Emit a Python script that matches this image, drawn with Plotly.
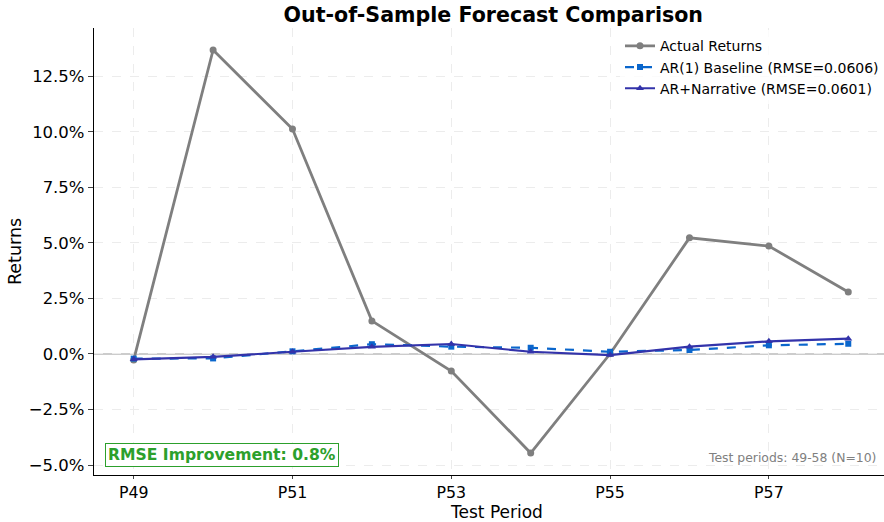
import plotly.graph_objects as go

periods = ["P49", "P50", "P51", "P52", "P53", "P54", "P55", "P56", "P57", "P58"]
actual = [-0.0027, 0.1369, 0.1013, 0.0149, -0.0077, -0.0446, 0.0001, 0.0523, 0.0486, 0.0279]
baseline = [-0.0021, -0.0020, 0.0012, 0.0044, 0.0033, 0.0028, 0.0010, 0.0018, 0.0039, 0.0046]
narrative = [-0.0024, -0.0013, 0.0010, 0.0032, 0.0045, 0.0010, -0.0005, 0.0033, 0.0057, 0.0069]
x_tick_labels = ["P49", "P51", "P53", "P55", "P57"]
y_ticks = [-0.05, -0.025, 0.0, 0.025, 0.05, 0.075, 0.10, 0.125]

idx = list(range(len(periods)))
FONT = "DejaVu Sans"
PLOT_H = 522 - 28 - 47

fig = go.Figure()
fig.add_hline(y=0, line=dict(color="#999999", width=1.2), layer="below")
fig.add_trace(go.Scatter(x=idx, y=actual, mode="lines+markers", name="Actual Returns",
                         line=dict(color="#7f7f7f", width=2.8),
                         marker=dict(symbol="circle", size=7, color="#7f7f7f")))
fig.add_trace(go.Scatter(x=idx, y=baseline, mode="lines+markers", name="AR(1) Baseline (RMSE=0.0606)",
                         line=dict(color="#0a66cc", width=2.2, dash="dash"),
                         marker=dict(symbol="square", size=6, color="#0a66cc")))
fig.add_trace(go.Scatter(x=idx, y=narrative, mode="lines+markers", name="AR+Narrative (RMSE=0.0601)",
                         line=dict(color="#3333aa", width=2.2),
                         marker=dict(symbol="triangle-up", size=7, color="#3333aa")))

fig.update_layout(
    width=884, height=522,
    margin=dict(l=94, r=0, t=28, b=47),
    plot_bgcolor="white", paper_bgcolor="white",
    font=dict(family=FONT, color="black"),
    title=dict(text="<b>Out-of-Sample Forecast Comparison</b>", x=0.558, xanchor="center",
               y=0.972, yanchor="middle", font=dict(size=20.6, family=FONT)),
    legend=dict(x=1.0, y=0.995, xanchor="right", yanchor="top", bgcolor="rgba(255,255,255,0.8)",
                borderwidth=0, font=dict(size=14, family=FONT), tracegroupgap=0, itemwidth=30),
    showlegend=True,
)
fig.update_xaxes(range=[-0.5, 9.45], tickmode="array", tickvals=[0, 2, 4, 6, 8], ticktext=x_tick_labels,
                 showline=True, linecolor="black", linewidth=1.3, ticks="outside", ticklen=3,
                 tickfont=dict(size=15.8), showgrid=True, gridcolor="#ececec", griddash="dash",
                 zeroline=False, mirror=False)
fig.update_yaxes(range=[-0.0545, 0.1468], tickmode="array", tickvals=y_ticks, tickformat=".1%",
                 showline=True, linecolor="black", linewidth=1.3, ticks="outside", ticklen=5,
                 tickfont=dict(size=16.5), showgrid=True, gridcolor="#ececec", griddash="dash",
                 zeroline=False,
                 title=dict(text="Returns", font=dict(size=17.5), standoff=2))

# x-axis title
fig.add_annotation(xref="paper", yref="paper", x=0.51, y=-48.0 / PLOT_H, xanchor="center", yanchor="bottom",
                   text="Test Period", showarrow=False, borderpad=0,
                   font=dict(size=17, family=FONT, color="black"))

fig.add_annotation(xref="paper", yref="paper", x=0.014, y=0.045, xanchor="left", yanchor="middle",
                   text="<b>RMSE Improvement: 0.8%</b>", showarrow=False,
                   font=dict(size=15.6, color="#2ca02c", family=FONT),
                   bgcolor="white", bordercolor="#2ca02c", borderwidth=1, borderpad=2)
fig.add_annotation(xref="paper", yref="paper", x=0.993, y=0.04, xanchor="right", yanchor="middle",
                   text="Test periods: 49-58 (N=10)", showarrow=False,
                   font=dict(size=12.4, color="#808080", family=FONT))

fig.write_html("out.html", config={"displayModeBar": False},
               post_script="document.body.style.margin='0';document.body.style.overflow='hidden';")
